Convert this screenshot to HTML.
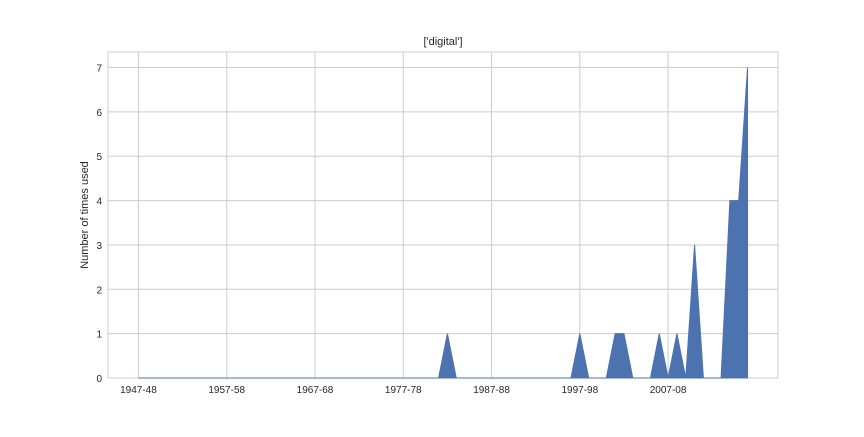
<!DOCTYPE html>
<html><head><meta charset="utf-8"><style>
body{margin:0;background:#fff;font-family:"Liberation Sans",Arial,sans-serif;}
svg text{font-family:"Liberation Sans",Arial,sans-serif;fill:#262626;}
</style></head><body>
<svg id="chart" width="864" height="432" xmlns="http://www.w3.org/2000/svg"></svg>
<script>
const categories=[];for(let y=1947;y<=2016;y++){categories.push(y+'-'+String((y+1)%100).padStart(2,'0'));}
const values=[0,0,0,0,0,0,0,0,0,0, 0,0,0,0,0,0,0,0,0,0, 0,0,0,0,0,0,0,0,0,0, 0,0,0,0,0,1,0,0,0,0, 0,0,0,0,0,0,0,0,0,0, 1,0,0,0,1,1,0,0,0,1, 0,1,0,3,0,0,0,4,4,7];
const yTicks=[0,1,2,3,4,5,6,7];
const xTickIdx=[0,10,20,30,40,50,60];
const NS='http://www.w3.org/2000/svg';
const svg=document.getElementById('chart');
const L=108,R=778,T=52,B=378;
const n=values.length, xmin=-0.05*(n-1), xmax=(n-1)*1.05;
const x=i=>L+(i-xmin)/(xmax-xmin)*(R-L);
const ymax=7.35;
const y=v=>B-v/ymax*(B-T);
function mk(tag,attrs){const e=document.createElementNS(NS,tag);for(const k in attrs)e.setAttribute(k,attrs[k]);svg.appendChild(e);return e;}
let e=mk('rect',{x:L,y:T,width:R-L,height:B-T,fill:'#fff',stroke:'#cccccc','stroke-width':1});


yTicks.forEach(t=>{
 let g=mk('line',{x1:L,x2:R,y1:y(t),y2:y(t),stroke:'#cccccc','stroke-width':1});
 
 
 let tx=mk('text',{x:L-6,y:y(t)+4,'text-anchor':'end','font-size':10});
 tx.textContent=t;
 
 
});
xTickIdx.forEach(i=>{
 let g=mk('line',{x1:x(i),x2:x(i),y1:T,y2:B,stroke:'#cccccc','stroke-width':1});
 
 
 let tx=mk('text',{x:x(i),y:B+15,'text-anchor':'middle','font-size':10});
 tx.textContent=categories[i];
 
 
});
let d='M'+x(0)+','+y(0);
values.forEach((v,i)=>{d+=' L'+x(i)+','+y(v);});
d+=' L'+x(n-1)+','+y(0)+' Z';
let a=mk('path',{d:d,fill:'#4c72b0',stroke:'#4c72b0','stroke-width':1});


let ti=mk('text',{x:(L+R)/2,y:T-7,'text-anchor':'middle','font-size':11});
ti.textContent="['digital']";


let yl=mk('text',{x:0,y:0,'text-anchor':'middle','font-size':11,transform:'translate(88,'+((T+B)/2)+') rotate(-90)'});
yl.textContent='Number of times used';


</script>
</body></html>
